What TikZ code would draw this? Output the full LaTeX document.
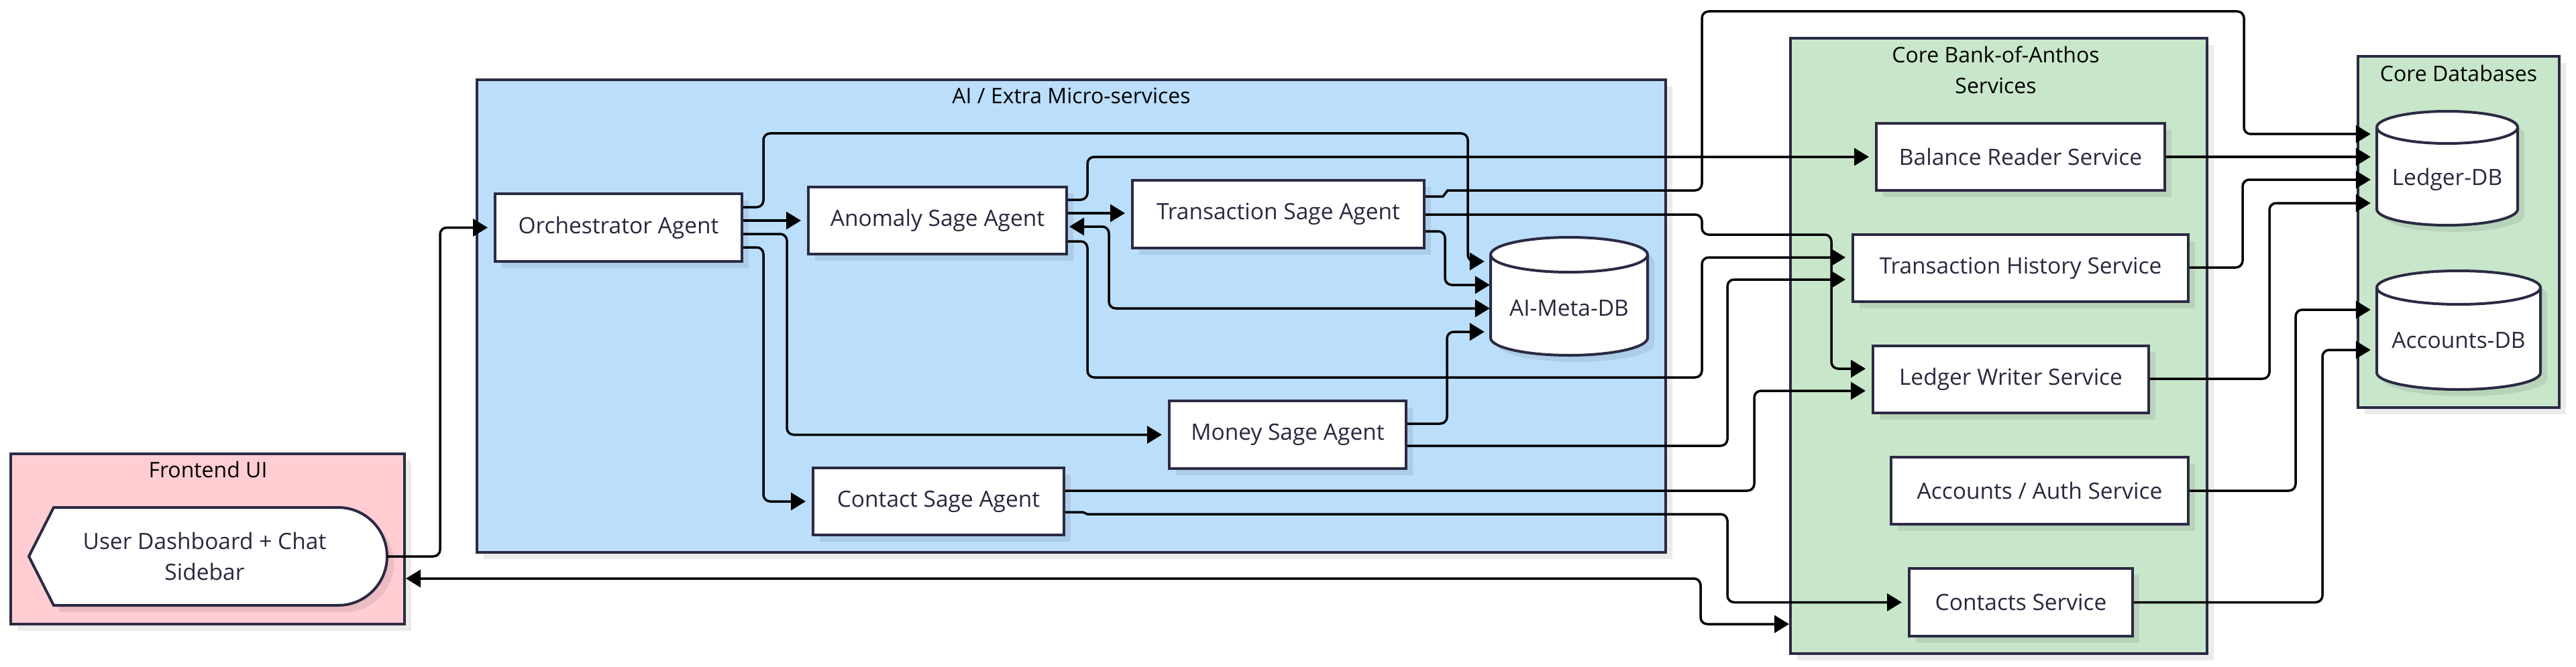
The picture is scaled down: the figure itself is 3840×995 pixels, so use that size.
\documentclass[tikz,border=0pt]{standalone}
\usepackage{fontspec}
\setmainfont{Open Sans}
\usetikzlibrary{arrows.meta,shadows}
\definecolor{aiblue}{RGB}{187,222,251}
\definecolor{fepink}{RGB}{255,205,210}
\definecolor{coregreen}{RGB}{200,230,201}
\definecolor{bordercol}{RGB}{43,42,68}
\definecolor{textcol}{RGB}{40,40,62}
\newcommand{\dbcyl}[5]{%
  \pgfmathsetmacro{\cylrx}{(#3-#1)/2}%
  \filldraw[cyl] (#1,#2+#5) -- (#1,#4-#5) arc[start angle=180,end angle=360,x radius=\cylrx pt,y radius=#5pt] -- (#3,#2+#5) arc[start angle=0,end angle=180,x radius=\cylrx pt,y radius=#5pt] -- cycle;
  \draw[cylline] (#1,#2+#5) arc[start angle=180,end angle=360,x radius=\cylrx pt,y radius=#5pt];
}
\tikzset{
  lblfont/.style={font=\fontsize{33.5pt}{46pt}\selectfont},
  ttlfont/.style={font=\fontsize{32pt}{46pt}\selectfont},
  shdw/.style={drop shadow={shadow xshift=10pt,shadow yshift=-10pt,fill=black,opacity=0.08}},
  cont/.style={draw=bordercol,line width=4pt,inner sep=0pt,shdw},
  ttl/.style={ttlfont,text=black,align=center,inner sep=0pt},
  box/.style={draw=bordercol,line width=4pt,fill=white,inner sep=0pt,lblfont,text=textcol,shdw},
  cyl/.style={draw=bordercol,line width=4pt,fill=white,shdw},
  cylline/.style={draw=bordercol,line width=4pt},
  inv/.style={draw=none,inner sep=0pt},
  lbl/.style={lblfont,text=textcol,inner sep=0pt,align=center},
  edge/.style={draw=black,line width=3.5pt,rounded corners=10pt},
  arr/.style={edge,-{Triangle[length=22pt,width=26pt]},shorten >=9pt},
  biarr/.style={edge,{Triangle[length=22pt,width=26pt]}-{Triangle[length=22pt,width=26pt]}}
}
\begin{document}
\begin{tikzpicture}[x=1pt,y=-1pt]
\useasboundingbox (0,0) rectangle (3840,995);
\fill[white] (0,0) rectangle (3840,995);

% containers
\node[cont,fill=fepink,minimum width=587pt,minimum height=254pt] (fe) at (309.5,804) {};
\node[ttl] (fettl) at (310,700) {Frontend UI};
\node[cont,fill=aiblue,minimum width=1772pt,minimum height=705pt] (ai) at (1597,471.5) {};
\node[ttl] (aittl) at (1597,143) {AI / Extra Micro-services};
\node[cont,fill=coregreen,minimum width=621pt,minimum height=918pt] (core) at (2979.5,516) {};
\node[ttl] (corettl) at (2975,104) {Core Bank-of-Anthos\\Services};
\node[cont,fill=coregreen,minimum width=300pt,minimum height=524pt] (cdb) at (3665,346) {};
\node[ttl] (cdbttl) at (3665,110) {Core Databases};

% frontend node
\filldraw[cyl] (43,830) -- (80,757) -- (504,757) arc[start angle=90,end angle=-90,radius=73pt] -- (80,903) -- cycle;
\node[inv,minimum width=534pt,minimum height=146pt] (dash) at (310,830) {};
\node[lbl] (dashlbl) at (305,830) {User Dashboard + Chat\\Sidebar};

% AI nodes
\node[box,minimum width=368pt,minimum height=101pt] (orch) at (922,339.5) {Orchestrator Agent};
\node[box,minimum width=385pt,minimum height=100pt] (anom) at (1397.5,329) {Anomaly Sage Agent};
\node[box,minimum width=435pt,minimum height=101pt] (trans) at (1905.5,319.5) {Transaction Sage Agent};
\node[box,minimum width=353pt,minimum height=101pt] (money) at (1919.5,648.5) {Money Sage Agent};
\node[box,minimum width=374pt,minimum height=100pt] (contact) at (1399,748) {Contact Sage Agent};
\dbcyl{2222}{354}{2456}{530}{26}
\node[inv,minimum width=234pt,minimum height=176pt] (aimeta) at (2339,442) {};
\node[lbl] (aimetalbl) at (2339,460) {AI-Meta-DB};

% core services
\node[box,minimum width=430pt,minimum height=100pt] (bal) at (3012,234) {Balance Reader Service};
\node[box,minimum width=500pt,minimum height=100pt] (th) at (3012,400) {Transaction History Service};
\node[box,minimum width=411pt,minimum height=100pt] (lw) at (2997.5,566) {Ledger Writer Service};
\node[box,minimum width=443pt,minimum height=100pt] (aa) at (3040.5,732) {Accounts / Auth Service};
\node[box,minimum width=333pt,minimum height=101pt] (contacts) at (3012.5,898.5) {Contacts Service};

% core databases
\dbcyl{3543}{166}{3753}{336}{24}
\node[inv,minimum width=210pt,minimum height=170pt] (ldb) at (3648,251) {};
\node[lbl] (ldblbl) at (3648,268) {Ledger-DB};
\dbcyl{3543}{404}{3787}{581}{25}
\node[inv,minimum width=244pt,minimum height=177pt] (adb) at (3665,492.5) {};
\node[lbl] (adblbl) at (3665,508) {Accounts-DB};

% edges
\draw[arr] (dash.east) -- (656,830) -- (656,339.5) -- (orch.west);
\draw[arr] (orch.east |- 0,329) -- (anom.west |- 0,329);
\draw[arr] (orch.east |- 0,309) -- (1138,309) -- (1138,199) -- (2188,199) -- (2188,390) -- (aimeta.west |- 0,390);
\draw[arr] (orch.east |- 0,349) -- (1173,349) -- (1173,648.5) -- (money.west);
\draw[arr] (orch.east |- 0,369) -- (1138,369) -- (1138,748) -- (contact.west);
\draw[arr] (anom.east |- 0,318) -- (trans.west |- 0,318);
\draw[biarr,shorten <=2pt,shorten >=1pt] (anom.east |- 0,338) -- (1653,338) -- (1653,460) -- (aimeta.west |- 0,460);
\draw[arr] (anom.east |- 0,298) -- (1621,298) -- (1621,234) -- (bal.west |- 0,234);
\draw[arr] (anom.east |- 0,360) -- (1621,360) -- (1621,563) -- (2537,563) -- (2537,384) -- (th.west |- 0,384);
\draw[arr,shorten >=1pt] (trans.east |- 0,345) -- (2154,345) -- (2154,425) -- (aimeta.west |- 0,425);
\draw[arr,shorten >=9pt] (money.east |- 0,632) -- (2157,632) -- (2157,495) -- (aimeta.west |- 0,495);
\draw[arr] (money.east |- 0,665) -- (2575,665) -- (2575,417) -- (th.west |- 0,417);
\draw[arr] (trans.east |- 0,293) [sharp corners] -- (2151,293) -- (2158,284) [rounded corners=10pt] -- (2537,284) -- (2537,17) -- (3345,17) -- (3345,200) -- (ldb.west |- 0,200);
\draw[arr] (trans.east |- 0,320) -- (2537,320) -- (2537,350) -- (2730,350) -- (2730,550) -- (lw.west |- 0,550);
\draw[arr] (contact.east |- 0,732) -- (2615,732) -- (2615,583) -- (lw.west |- 0,583);
\draw[arr] (contact.east |- 0,764) [sharp corners] -- (1614,764) -- (1621,767) [rounded corners=10pt] -- (2575,767) -- (2575,898.5) -- (contacts.west);
\draw[biarr] (fe.east |- 0,863) -- (2535,863) -- (2535,931) -- (core.west |- 0,931);
\draw[arr] (bal.east) -- (ldb.west |- 0,234);
\draw[arr] (th.east |- 0,399) -- (3343,399) -- (3343,268) -- (ldb.west |- 0,268);
\draw[arr] (lw.east |- 0,565) -- (3383,565) -- (3383,303) -- (ldb.west |- 0,303);
\draw[arr] (aa.east) -- (3422,732) -- (3422,462) -- (adb.west |- 0,462);
\draw[arr] (contacts.east) -- (3462,898.5) -- (3462,522) -- (adb.west |- 0,522);
\end{tikzpicture}
\end{document}
